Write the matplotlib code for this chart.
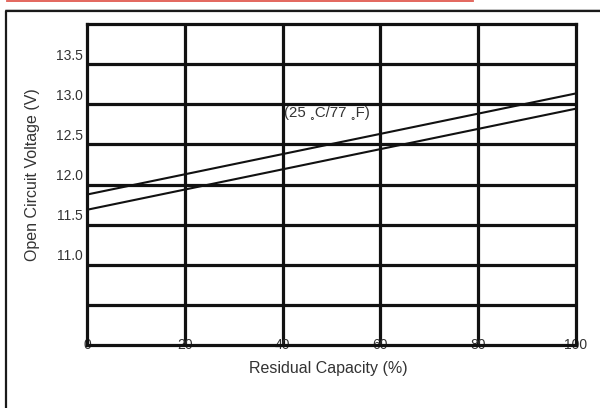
import matplotlib.pyplot as plt
from matplotlib.lines import Line2D

plt.rcParams['font.family'] = ['Liberation Sans', 'DejaVu Sans']

# chart data
capacity = [0, 100]
voltage_upper = [11.75, 13.01]
voltage_lower = [11.56, 12.82]
x_ticks = [0, 20, 40, 60, 80, 100]
y_labels = [11.0, 11.5, 12.0, 12.5, 13.0, 13.5]
y_grid = [10.375, 10.875, 11.375, 11.875, 12.375, 12.875, 13.375]
note = '(25 \u02f3C/77 \u02f3F)'

W, H = 600, 408
fig = plt.figure(figsize=(W / 100, H / 100), dpi=100)
ax = fig.add_axes([87 / W, 1 - 345 / H, (576 - 87) / W, (345 - 24) / H])

ax.set_xlim(0, 100)
ax.set_ylim(9.875, 13.875)

# grid
for g in x_ticks[1:-1]:
    ax.axvline(g, color='#111111', lw=2.3, zorder=1)
for g in y_grid:
    ax.axhline(g, color='#111111', lw=2.3, zorder=1)
for s in ax.spines.values():
    s.set_color('#111111')
    s.set_linewidth(2.3)

ax.plot(capacity, voltage_upper, color='#111111', lw=1.5, zorder=2)
ax.plot(capacity, voltage_lower, color='#111111', lw=1.5, zorder=2)

ax.text(40.3, 12.77, note, fontsize=10.8, color='#333333', va='center', ha='left')

ax.set_xticks(x_ticks)
ax.set_xticklabels([str(t) for t in x_ticks])
ax.set_yticks(y_labels)
ax.set_yticklabels([f'{v:.1f}' for v in y_labels])
ax.tick_params(axis='both', length=0, labelsize=10, labelcolor='#333333')
ax.tick_params(axis='x', pad=0)
ax.tick_params(axis='y', pad=3)
for lab in ax.get_xticklabels():
    lab.set_verticalalignment('center')

ax.set_xlabel('Residual Capacity (%)', fontsize=11.5, color='#333333')
ax.set_ylabel('Open Circuit Voltage (V)', fontsize=11.5, color='#333333')
ax.xaxis.set_label_coords(0.493, -0.072)
ax.yaxis.set_label_coords(-0.112, 0.53)
ax.xaxis.label.set_verticalalignment('center')
ax.yaxis.label.set_verticalalignment('center')

# page frame
fig.add_artist(Line2D([7 / W, 473 / W], [1 - 0.8 / H, 1 - 0.8 / H], color='#e05a50', lw=1.3,
                      transform=fig.transFigure))
fig.add_artist(Line2D([5 / W, 1], [1 - 9.3 / H, 1 - 9.3 / H], color='#cccccc', lw=0.6,
                      transform=fig.transFigure))
fig.add_artist(Line2D([6 / W, 6 / W, 1], [0, 1 - 11 / H, 1 - 11 / H], color='#1a1a1a', lw=1.6,
                      transform=fig.transFigure))

fig.savefig('out.png', dpi=100)
